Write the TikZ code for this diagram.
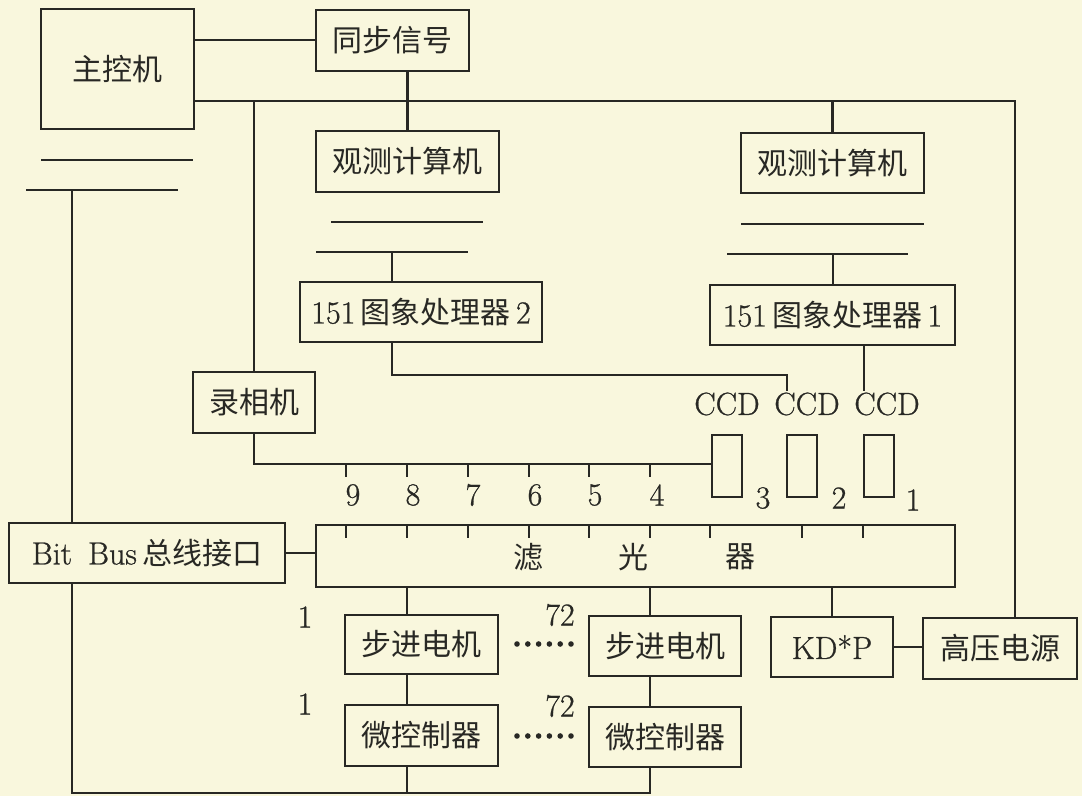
\documentclass[tikz,border=0pt]{standalone}
\usepackage{fontspec}
\setmainfont{Latin Modern Roman}[FakeBold=0.8]
\newfontfamily\zhfont{Noto Sans CJK SC}
\newcommand\zhs[1]{{\zhfont\fontsize{15pt}{17pt}\selectfont #1}}
\definecolor{paper}{RGB}{249,247,221}
\definecolor{ink}{RGB}{40,40,36}
\begin{document}
\begin{tikzpicture}[x=0.5pt,y=-0.5pt,line width=1.1pt,
  box/.style={draw=ink,line width=1.1pt,inner sep=0pt,text=ink,font=\fontsize{16pt}{18pt}\selectfont},
  bx/.style 2 args={minimum width=#1*0.5pt,minimum height=#2*0.5pt},
  lab/.style={text=ink,inner sep=0pt,font=\fontsize{16pt}{18pt}\selectfont}]
\fill[paper] (0,0) rectangle (1082,796);
\useasboundingbox (0,0) rectangle (1082,796);
% boxes
\node[box,bx={153}{120}] (main) at (117.5,69) {\zhs{主控机}};
\node[box,bx={153}{61}] (sync) at (392.5,40.5) {\zhs{同步信号}};
\node[box,bx={183}{61}] (obsL) at (407.5,161.5) {\zhs{观测计算机}};
\node[box,bx={183}{60}] (obsR) at (832.5,163) {\zhs{观测计算机}};
\node[box,bx={242}{60}] (procL) at (421,312) {151\,\zhs{图象处理器}\,2};
\node[box,bx={245}{60}] (procR) at (832.5,315) {151\,\zhs{图象处理器}\,1};
\node[box,bx={122}{61}] (rec) at (254,402.5) {\zhs{录相机}};
\node[box,bx={30}{62}] (ccd3) at (727,466) {};
\node[box,bx={30}{62}] (ccd2) at (802,466) {};
\node[box,bx={30}{62}] (ccd1) at (879,466) {};
\node[box,bx={276}{60}] (bitbus) at (147,553) {Bit\hspace{0.5em}Bus\,\zhs{总线接口}};
\node[box,bx={639}{62}] (filter) at (635.5,556) {};
\node[lab] (fa) at (528,557) {\zhs{滤}};
\node[lab] (fb) at (633,557) {\zhs{光}};
\node[lab] (fc) at (740,557) {\zhs{器}};
\node[box,bx={153}{59}] (motor1) at (421.5,644.5) {\zhs{步进电机}};
\node[box,bx={152}{60}] (motor72) at (665,646) {\zhs{步进电机}};
\node[box,bx={122}{60}] (kdp) at (832,647) {KD*P};
\node[box,bx={154}{61}] (hv) at (1000,648.5) {\zhs{高压电源}};
\node[box,bx={153}{61}] (mc1) at (421.5,735.5) {\zhs{微控制器}};
\node[box,bx={152}{60}] (mc72) at (665,737) {\zhs{微控制器}};
% CCD labels
\node[lab] (cl3) at (727,404) {CCD};
\node[lab] (cl2) at (807,404) {CCD};
\node[lab] (cl1) at (887,404) {CCD};
% number labels
\foreach \x/\n in {353/9,413/8,473/7,535/6,595/5,657/4}
  \node[lab] (t\n) at (\x,495) {\n};
\node[lab] (c3) at (763,498) {3};
\node[lab] (c2) at (839,498) {2};
\node[lab] (c1) at (913,500) {1};
\node[lab] (la) at (305,617) {1};
\node[lab] (lb) at (305,704) {1};
\node[lab] (lc) at (560,615) {72};
\node[lab] (ld) at (560,706) {72};
% dots
\foreach \i in {0,...,5} {
  \fill[ink] (517+\i*10.8,644) circle (2.8);
  \fill[ink] (517+\i*10.8,736) circle (2.8);
}
\begin{scope}[draw=ink]
% coordinates
\coordinate (tr) at (1015,101);
\coordinate (bL) at (392,252);
\coordinate (bR) at (833,254);
\coordinate (pl) at (392,375);
\coordinate (pc) at (787,375);
\coordinate (pr) at (864,345);
\coordinate (tk) at (255,464);
\coordinate (bm) at (72,190);
\coordinate (bot) at (72,793);
\coordinate (m1) at (407,793);
\coordinate (m72) at (650,793);
% top connections
\draw (main.east |- 0,40) -- (sync.west |- 0,40);
\draw (main.east |- tr) -- (tr) -- (tr |- hv.north);
\draw (rec.north |- tr) -- (rec.north);
\draw (obsL.north |- sync.south) -- (obsL.north);
\draw (obsR.north |- tr) -- (obsR.north);
% bus bars
\draw (41,160) -- (193,160);
\draw (26,190) -- (178,190);
\draw (331,222) -- (483,222);
\draw (316,252) -- (468,252);
\draw (741,224) -- (924,224);
\draw (727,254) -- (908,254);
\draw (bL) -- (bL |- procL.north);
\draw (bR) -- (bR |- procR.north);
% processors to CCD
\draw (pl |- procL.south) -- (pl) -- (pc) -- (pc |- cl2.north);
\draw (pr |- procR.south) -- (pr |- cl1.north);
% recorder line and ticks
\draw (rec.south) -- (rec.south |- tk) -- (ccd3.west |- tk);
\foreach \x in {346,407,468,529,589,650}
  \draw (\x,464) -- (\x,477);
% filter ticks
\foreach \x in {346,407,468,529,589,650,710,802,863}
  \draw (\x,525) -- (\x,538);
% bit bus
\draw (bm) -- (bm |- bitbus.north);
\draw (bitbus.east) -- (bitbus.east -| filter.west);
\draw (bm |- bitbus.south) -- (bot) -- (m72) -- (m72 |- mc72.south);
\draw (m1 |- filter.south) -- (m1 |- motor1.north);
\draw (m1 |- motor1.south) -- (m1 |- mc1.north);
\draw (m1 |- mc1.south) -- (m1);
\draw (m72 |- filter.south) -- (m72 |- motor72.north);
\draw (m72 |- motor72.south) -- (m72 |- mc72.north);
\draw (kdp.north |- filter.south) -- (kdp.north);
\draw (kdp.east) -- (kdp.east -| hv.west);
\end{scope}
\end{tikzpicture}
\end{document}
